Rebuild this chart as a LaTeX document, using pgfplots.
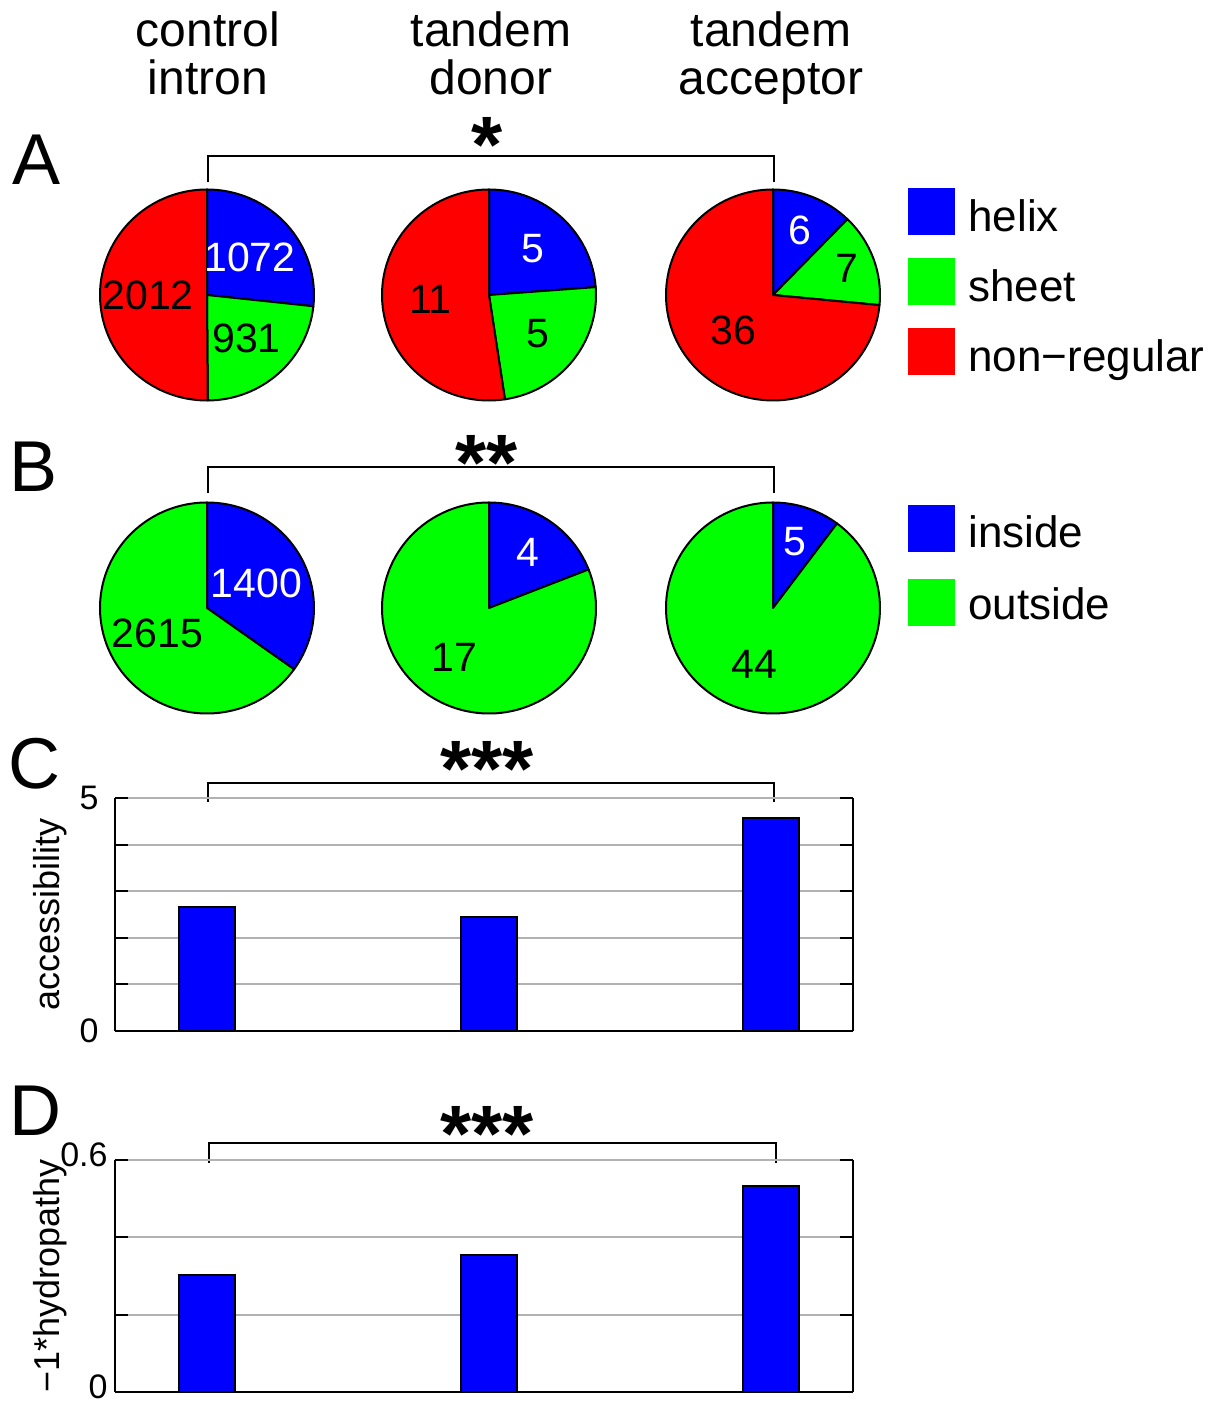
\documentclass[border=0pt]{standalone}
\usepackage{pgfplots}
\pgfplotsset{compat=1.18}
\usepackage{fontspec}
\setmainfont{Liberation Sans}

\definecolor{mblue}{RGB}{0,0,255}
\definecolor{mgreen}{RGB}{0,255,0}
\definecolor{mred}{RGB}{255,0,0}
\definecolor{gridgray}{RGB}{178,178,178}

\newcommand{\fs}[1]{\fontsize{#1}{#1}\selectfont}

\pgfplotsset{
  pie/.style={hide axis, scale only axis, width=107pt, height=105.5pt,
    xmin=-1, xmax=1, ymin=-1, ymax=1, anchor=center, clip=false},
  bars/.style={scale only axis, width=369pt, anchor=south west,
    xmin=0.674, xmax=3.292, xtick=\empty, clip=false,
    axis x line=bottom, axis y line=box, axis line style={-, line width=1pt},
    tick align=inside, major tick length=0pt,
    ymajorgrids, major grid style={gridgray, line width=1pt},
    /pgf/number format/assume math mode=true,
    yticklabel style={font=\fs{17}, inner sep=0pt},
    every axis y label/.style={at={(axis description cs:-0.088,0.5)},
      anchor=center, rotate=90, font=\fs{18}}},
}

% black inward ticks (6.5pt = 0.046 x units) on both sides, over the grey grid
\newcommand{\sideticks}[1]{%
  \pgfplotsinvokeforeach{#1}{%
    \draw[line width=1pt] (axis cs:0.674,##1) -- (axis cs:0.720,##1);
    \draw[line width=1pt] (axis cs:3.246,##1) -- (axis cs:3.292,##1);}}

% one slice of a pie, angles in degrees, clockwise from #1 to #2
\newcommand{\slice}[3]{%
  \filldraw[fill=#3, draw=black, line width=1pt, line join=round]
    (axis cs:0,0) -- (axis cs:{cos(#1)},{sin(#1)})
    arc[start angle=#1, end angle=#2, radius=1] -- cycle;}
\newcommand{\slabel}[4]{%
  \node[text=#4, font=\fs{20.5}] at (axis cs:{#2*cos(#1)},{#2*sin(#1)}) {#3};}

% pie with three counts (helix, sheet, non-regular) and label radii
\newcommand{\pieThree}[8]{%
  \pgfmathsetmacro\tot{#3+#4+#5}%
  \pgfmathsetmacro\aA{90-(#3/\tot)*360}%
  \pgfmathsetmacro\aB{\aA-(#4/\tot)*360}%
  \begin{axis}[pie, at={(#1,#2)}]
    \slice{90}{\aA}{mblue}
    \slice{\aA}{\aB}{mgreen}
    \slice{\aB}{-270}{mred}
    \slabel{(90+\aA)/2}{#6}{#3}{white}
    \slabel{(\aA+\aB)/2}{#7}{#4}{black}
    \slabel{(\aB-270)/2}{#8}{#5}{black}
  \end{axis}}

% pie with two counts (inside, outside)
\newcommand{\pieTwo}[6]{%
  \pgfmathsetmacro\tot{#3+#4}%
  \pgfmathsetmacro\aA{90-(#3/\tot)*360}%
  \begin{axis}[pie, at={(#1,#2)}]
    \slice{90}{\aA}{mblue}
    \slice{\aA}{-270}{mgreen}
    \slabel{(90+\aA)/2}{#5}{#3}{white}
    \slabel{(\aA-270)/2}{#6}{#4}{black}
  \end{axis}}

\begin{document}
\begin{tikzpicture}
\path[use as bounding box] (0,0) rectangle (605.5pt,702.5pt);

% column headers
\foreach \x/\a/\b in {104pt/control/intron, 245.5pt/tandem/donor, 385.5pt/tandem/acceptor}{
  \node[anchor=base, inner sep=0, font=\fs{24}] at (\x,679pt) {\a};
  \node[anchor=base, inner sep=0, font=\fs{24}] at (\x,655pt) {\b};
}

% panel letters
\node[anchor=base west, inner sep=0, font=\fs{36}] at (6pt,610pt) {A};
\node[anchor=base west, inner sep=0, font=\fs{36}] at (4.5pt,456.5pt) {B};
\node[anchor=base west, inner sep=0, font=\fs{36}] at (4pt,308pt) {C};
\node[anchor=base west, inner sep=0, font=\fs{36}] at (4.5pt,134.5pt) {D};

% significance brackets
\tikzset{star/.style={anchor=north, inner sep=0, font=\fs{40}\bfseries}}
\draw[line width=1pt] (104pt,611.5pt) -- (104pt,624.5pt) -- (387pt,624.5pt) -- (387pt,611.5pt);
\node[star] at (243.5pt,644pt) {*};
\draw[line width=1pt] (104pt,456pt) -- (104pt,469pt) -- (387pt,469pt) -- (387pt,456pt);
\node[star] at (243.5pt,485pt) {**};
\draw[line width=1pt] (104pt,301.5pt) -- (104pt,311pt) -- (387pt,311pt) -- (387pt,301.5pt);
\node[star] at (243.5pt,332pt) {***};
\draw[line width=1pt] (104.5pt,121pt) -- (104.5pt,131pt) -- (388pt,131pt) -- (388pt,121pt);
\node[star] at (243.5pt,149.5pt) {***};

% A: secondary structure
\pieThree{103.5pt}{555pt}{1072}{931}{2012}{0.54}{0.55}{0.55}
\pieThree{244.5pt}{555pt}{5}{5}{11}{0.60}{0.59}{0.55}
\pieThree{386.5pt}{555pt}{6}{7}{36}{0.66}{0.74}{0.50}

% B: inside / outside
\pieTwo{103.5pt}{398.5pt}{1400}{2615}{0.52}{0.52}
\pieTwo{244.5pt}{398.5pt}{4}{17}{0.64}{0.57}
\pieTwo{386.5pt}{398.5pt}{5}{44}{0.66}{0.56}

% legends
\fill[mblue]  (454pt,585pt) rectangle (477.5pt,608.5pt);
\fill[mgreen] (454pt,550pt) rectangle (477.5pt,573.5pt);
\fill[mred]   (454pt,515pt) rectangle (477.5pt,538.5pt);
\node[anchor=base west, inner sep=0, font=\fs{22}] at (484pt,586.5pt) {helix};
\node[anchor=base west, inner sep=0, font=\fs{22}] at (484pt,551.5pt) {sheet};
\node[anchor=base west, inner sep=0, font=\fs{22}] at (484pt,516.5pt) {non−regular};
\fill[mblue]  (454pt,426.5pt) rectangle (477.5pt,450pt);
\fill[mgreen] (454pt,389.5pt) rectangle (477.5pt,413pt);
\node[anchor=base west, inner sep=0, font=\fs{22}] at (484pt,428.5pt) {inside};
\node[anchor=base west, inner sep=0, font=\fs{22}] at (484pt,392.5pt) {outside};

% C: accessibility
\begin{axis}[bars, at={(57.5pt,187pt)}, height=116.5pt,
  ymin=0, ymax=5, ytick={0,1,2,3,4,5}, yticklabels={0,,,,,5},
  yticklabel style={xshift=-8pt},
  ylabel={accessibility}]
  \addplot[ybar, bar width=28pt, fill=mblue, draw=black, line width=0.9pt]
    coordinates {(1,2.66) (2,2.45) (3,4.57)};
  \sideticks{0,1,2,3,4,5}
\end{axis}

% D: -1 * hydropathy
\begin{axis}[bars, at={(57.5pt,6.5pt)}, height=116pt,
  ymin=0, ymax=0.6, ytick={0,0.2,0.4,0.6}, yticklabels={0,,,0.6},
  yticklabel style={xshift=-3.5pt, yshift=2.5pt},
  ylabel={−1*hydropathy}]
  \addplot[ybar, bar width=28pt, fill=mblue, draw=black, line width=0.9pt]
    coordinates {(1,0.303) (2,0.354) (3,0.533)};
  \sideticks{0,0.2,0.4,0.6}
\end{axis}
\end{tikzpicture}
\end{document}
